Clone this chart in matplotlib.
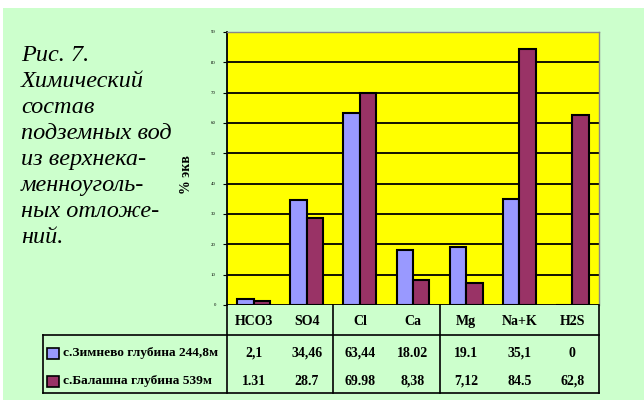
import matplotlib
matplotlib.use("Agg")
import matplotlib.pyplot as plt
from matplotlib.patches import Rectangle
import numpy as np

categories = ["HCO3", "SO4", "Cl", "Ca", "Mg", "Na+K", "H2S"]
series_names = ["с.Зимнево глубина 244,8м", "с.Балашна глубина 539м"]
zimnevo = [2.1, 34.46, 63.44, 18.02, 19.1, 35.1, 0]
balashna = [1.31, 28.7, 69.98, 8.38, 7.12, 84.5, 62.8]
zimnevo_labels = ["2,1", "34,46", "63,44", "18.02", "19.1", "35,1", "0"]
balashna_labels = ["1.31", "28.7", "69.98", "8,38", "7,12", "84.5", "62,8"]
yticks = [0, 10, 20, 30, 40, 50, 60, 70, 80, 90]
title_lines = ["Рис. 7.", "Химический", "состав", "подземных вод",
               "из верхнека-", "менноуголь-", "ных отложе-", "ний."]

colors = ["#9999FF", "#993366"]
W, H = 644, 400
fig = plt.figure(figsize=(W / 100, H / 100), dpi=100, facecolor="white")

def fx(px):
    return px / W

def fy(py):
    return 1 - py / H

# green background panel (drawn behind everything)
bg = fig.add_axes([fx(3), 0, 1 - fx(3), fy(8)], zorder=-10)
bg.set_facecolor("#CCFFCC")
bg.set_axis_off()
bg.add_patch(Rectangle((0, 0), 1, 1, transform=bg.transAxes,
                       facecolor="#CCFFCC", edgecolor="none"))

# title text
serif = ["Liberation Serif", "DejaVu Serif"]
for i, line in enumerate(title_lines):
    fig.text(fx(21), fy(61 + 26 * i), line, fontsize=17.5, style="italic",
             family=serif, va="baseline", ha="left")

# main axes
x0, x1, y0, y1 = 227, 599, 305, 32
ax = fig.add_axes([fx(x0), fy(y0), fx(x1) - fx(x0), fy(y1) - fy(y0)], zorder=1)
ax.set_facecolor("#FFFF00")
x = np.arange(len(categories))
bw = 0.31
ax.bar(x - bw / 2, zimnevo, bw, color=colors[0], edgecolor="black", linewidth=1.5, zorder=3)
ax.bar(x + bw / 2, balashna, bw, color=colors[1], edgecolor="black", linewidth=1.5, zorder=3)
ax.set_xlim(-0.5, len(categories) - 0.5)
ax.set_ylim(0, 90)
ax.set_yticks(yticks)
ax.set_yticklabels([str(t) for t in yticks], fontsize=3.5, family=serif)
ax.set_xticks([])
ax.yaxis.grid(True, color="black", linewidth=1.3)
ax.set_axisbelow(True)
for s in ["top", "right"]:
    ax.spines[s].set_color("#888888")
    ax.spines[s].set_linewidth(1.0)
ax.spines["bottom"].set_visible(False)
ax.spines["left"].set_color("black")
ax.spines["left"].set_linewidth(1.3)
ax.tick_params(axis="y", length=3, width=0.8, pad=5)

fig.text(fx(186), fy(175), "% экв", rotation=90, fontsize=10, fontweight="bold",
         family=serif, ha="center", va="center")

# data table
tx0, ty0, ty1 = 43, 305, 393
tax = fig.add_axes([fx(tx0), fy(ty1), fx(x1) - fx(tx0), fy(ty0) - fy(ty1)], zorder=1)
tax.set_axis_off()
unit = (x1 - x0) / len(categories)
left_lim = -0.5 - (x0 - tx0) / unit
right_lim = len(categories) - 0.5
tax.set_xlim(left_lim, right_lim)
tax.set_ylim(ty1, ty0)

lk = dict(color="black", linewidth=1.2, clip_on=False)
tax.plot([left_lim, right_lim], [335, 335], **lk)
tax.plot([left_lim, right_lim], [ty1, ty1], **lk)
tax.plot([left_lim, left_lim], [335, ty1], **lk)
tax.plot([right_lim] * 2, [ty0, ty1], **lk)
for b in [-0.5, 1.5, 3.5]:
    tax.plot([b, b], [ty0, ty1], **lk)

tf = dict(fontsize=10, fontweight="bold", family=serif, ha="center", va="center")
for i, c in enumerate(categories):
    tax.text(i, 321, c, **tf)
    tax.text(i, 353, zimnevo_labels[i], **tf)
    tax.text(i, 381, balashna_labels[i], **tf)

for name, col, yy in zip(series_names, colors, [353, 381]):
    sq_w = 12 / unit
    tax.add_patch(Rectangle((left_lim + 4.5 / unit, yy - 5.5), sq_w, 11,
                            facecolor=col, edgecolor="black", linewidth=1.2))
    tax.text(left_lim + 20 / unit, yy, name, fontsize=9.6, fontweight="bold",
             family=serif, ha="left", va="center")

fig.savefig("out.png", dpi=100, facecolor="white")
